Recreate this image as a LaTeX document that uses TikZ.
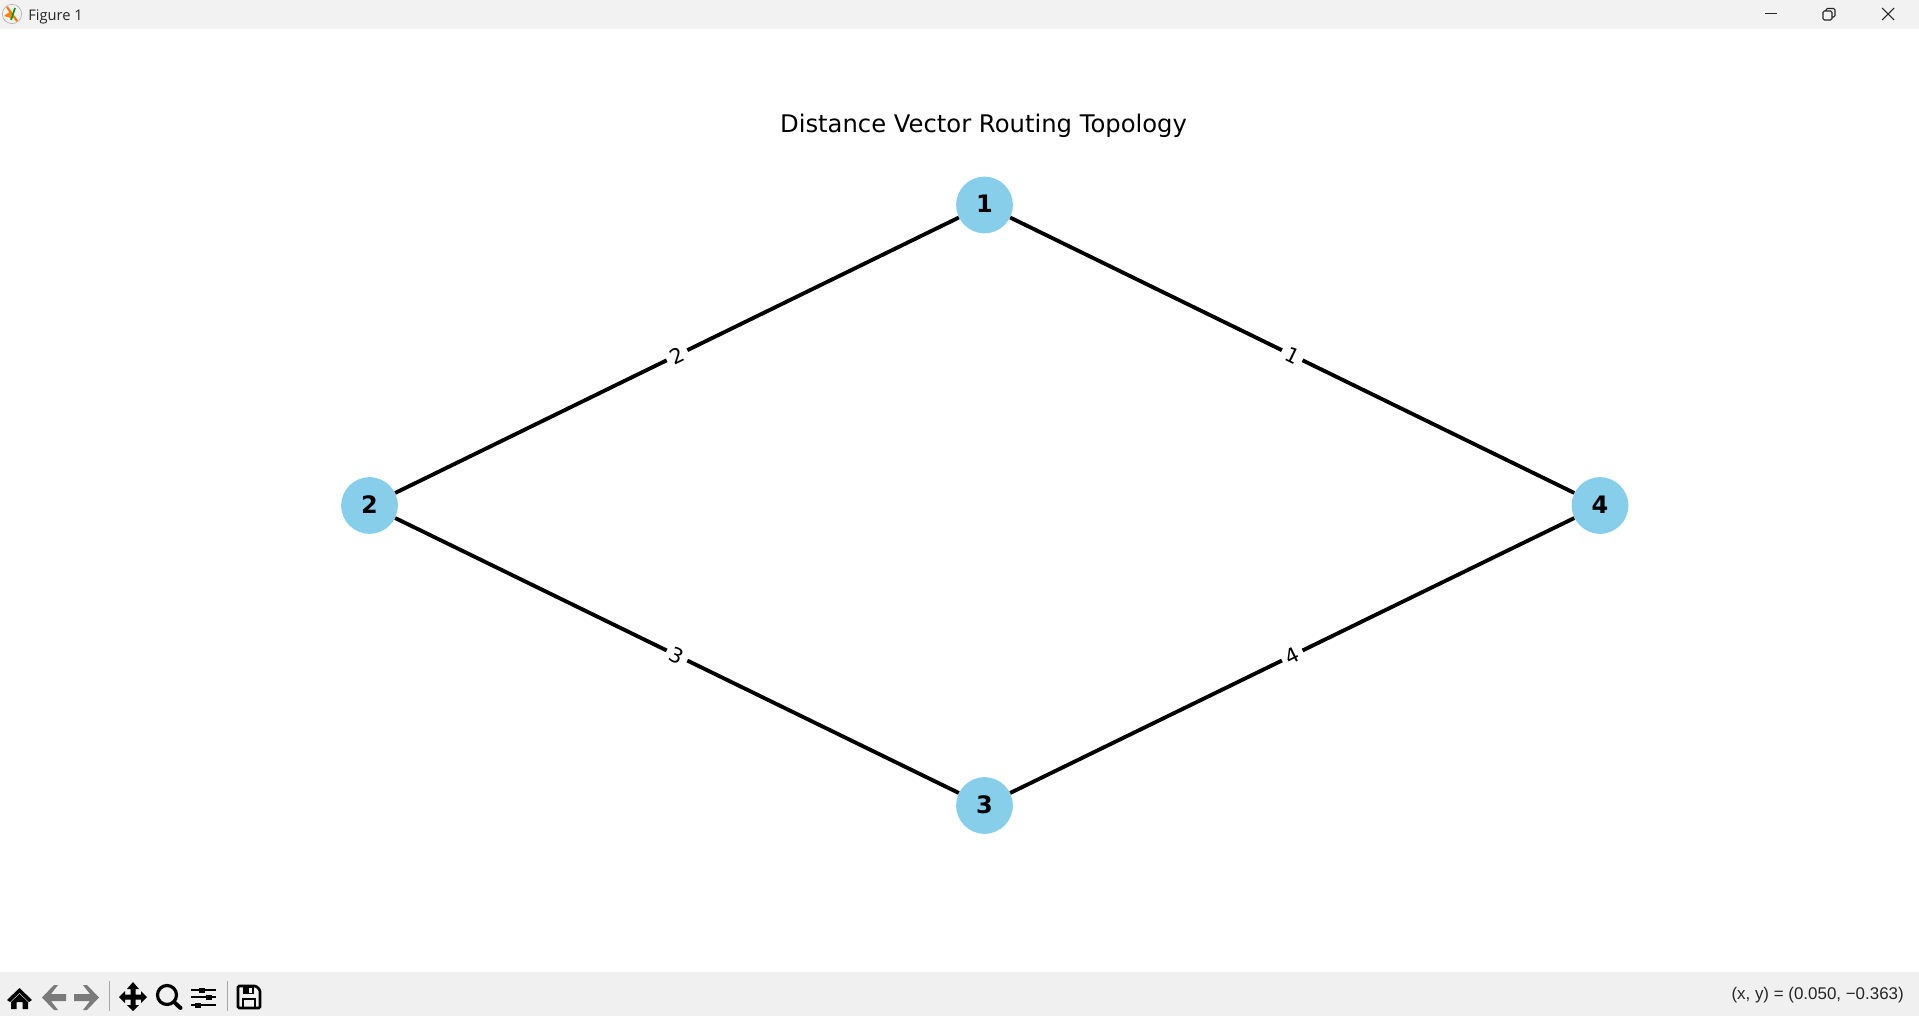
\documentclass[tikz,border=0pt]{standalone}
\usepackage{fontspec}
\setmainfont{DejaVu Sans}
\newfontfamily\winfont{Open Sans}
\newfontfamily\statusfont{Liberation Sans}
\usetikzlibrary{positioning}
\definecolor{nodeblue}{HTML}{87CEEB}
\definecolor{titlebg}{HTML}{F2F2F2}
\definecolor{toolbg}{HTML}{F0F0F0}
\definecolor{sepgray}{HTML}{A8A8A8}
\tikzset{
  vertex/.style={circle, fill=nodeblue, minimum size=42.5pt, inner sep=0pt, font=\fontsize{18}{20}\selectfont\bfseries},
  link/.style={line width=2.9pt, black},
  weight/.style={fill=white, inner sep=3.6pt, sloped, font=\fontsize{15.5}{17}\selectfont},
  icon/.style={fill=black, draw=none},
  greyicon/.style={fill=black!52, draw=none},
  iconline/.style={draw=black, line width=1.3pt},
  winline/.style={draw=black!85, line width=.8pt}
}
\begin{document}
\begin{tikzpicture}[x=.75pt, y=-.75pt]
    \useasboundingbox (0,0) rectangle (1919,1016);
    \fill[white] (0,0) rectangle (1919,1016);
    \fill[titlebg] (0,0) rectangle (1919,29);
    \fill[toolbg] (0,972) rectangle (1919,1016);

    % Window bar
    \node[circle, draw=black!35, line width=.4pt, minimum size=14.5pt, inner sep=0pt] (logo) at (12,14) {};
    \draw[line width=1.6pt, orange!90!red] (7,7) -- (17,21);
    \draw[line width=1.2pt, green!60!black] (15,8) -- (11,20);
    \fill[orange] (4,16) -- (11,11) -- (11,18) -- cycle;
    \node[anchor=west, inner sep=0pt, font=\winfont\fontsize{11}{13}\selectfont, text=black!85] (wintitle) at (28,17) {Figure 1};
    \draw[winline] (1765,13.5) -- (1777,13.5);
    \draw[winline, rounded corners=1pt] (1823,11) rectangle (1832,20);
    \draw[winline, rounded corners=1pt] (1826,11) -- (1826,8.5) -- (1835,8.5) -- (1835,17) -- (1832,17);
    \draw[winline] (1882,8) -- (1894,20) (1894,8) -- (1882,20);

    % Graph
    \node[font=\fontsize{18.2}{21}\selectfont] (title) at (983.5,125.5) {Distance Vector Routing Topology};
    \node[vertex] (n1) at (984.5,205) {\raisebox{1.6pt}{1}};
    \node[vertex] (n2) at (369.5,505.5) {\raisebox{1.6pt}{2}};
    \node[vertex] (n3) at (984.5,805.5) {\raisebox{1.6pt}{3}};
    \node[vertex] (n4) at (1600,505.5) {\raisebox{1.6pt}{4}};
    \draw[link] (n1) -- node[weight] (w2) {2} (n2);
    \draw[link] (n1) -- node[weight] (w1) {1} (n4);
    \draw[link] (n2) -- node[weight] (w3) {3} (n3);
    \draw[link] (n3) -- node[weight] (w4) {4} (n4);

    % Toolbar
    \fill[icon] (7,1000) -- (19.5,988) -- (32,1000) -- (29,1002) -- (19.5,993) -- (10,1002) -- cycle;
    \fill[icon] (11,1002) -- (19.5,994) -- (28,1002) -- (28,1009) -- (22.5,1009) -- (22.5,1002) -- (16.5,1002) -- (16.5,1009) -- (11,1009) -- cycle;
    \fill[greyicon] (42,997.5) -- (54,985) -- (58,985) -- (51,994) -- (66,994) -- (66,1001) -- (51,1001) -- (58,1010) -- (54,1010) -- cycle;
    \fill[greyicon] (99,997.5) -- (87,985) -- (83,985) -- (90,994) -- (74,994) -- (74,1001) -- (90,1001) -- (83,1010) -- (87,1010) -- cycle;
    \draw[sepgray, line width=.7pt] (109,981) -- (109,1011);
    \fill[icon] (133,982) -- (139,989) -- (135.5,989) -- (135.5,994.5) -- (141,994.5) -- (141,991) -- (147,997) -- (141,1003) -- (141,999.5) -- (135.5,999.5) -- (135.5,1005) -- (139,1005) -- (133,1011) -- (127,1005) -- (130.5,1005) -- (130.5,999.5) -- (125,999.5) -- (125,1003) -- (119,997) -- (125,991) -- (125,994.5) -- (130.5,994.5) -- (130.5,989) -- (127,989) -- cycle;
    \draw[black, line width=2.4pt] (167,995) circle[radius=9.5];
    \draw[black, line width=3pt, line cap=round] (174,1002) -- (180.5,1008);
    \foreach \yy/\xx in {990/202, 997/209, 1005/198} {
      \draw[iconline] (191,\yy) -- (216,\yy);
      \fill[icon] (\xx-3,\yy-2.5) rectangle (\xx+3,\yy+2.5);
    }
    \draw[sepgray, line width=.7pt] (227,981) -- (227,1011);
    \draw[black, line width=2pt, rounded corners=1pt] (238,986) -- (256,986) -- (260,990) -- (260,1008) -- (238,1008) -- cycle;
    \fill[icon] (243,986) rectangle (254,994);
    \fill[toolbg] (249,987.5) rectangle (252,992.5);
    \draw[black, line width=1.6pt] (243,1008) -- (243,999) -- (255,999) -- (255,1008);

    % Status text
    \node[anchor=east, inner sep=0pt, font=\statusfont\fontsize{12.7}{15}\selectfont, text=black!85] (status) at (1904,995.5) {(x, y) = (0.050, −0.363)};
\end{tikzpicture}
\end{document}
